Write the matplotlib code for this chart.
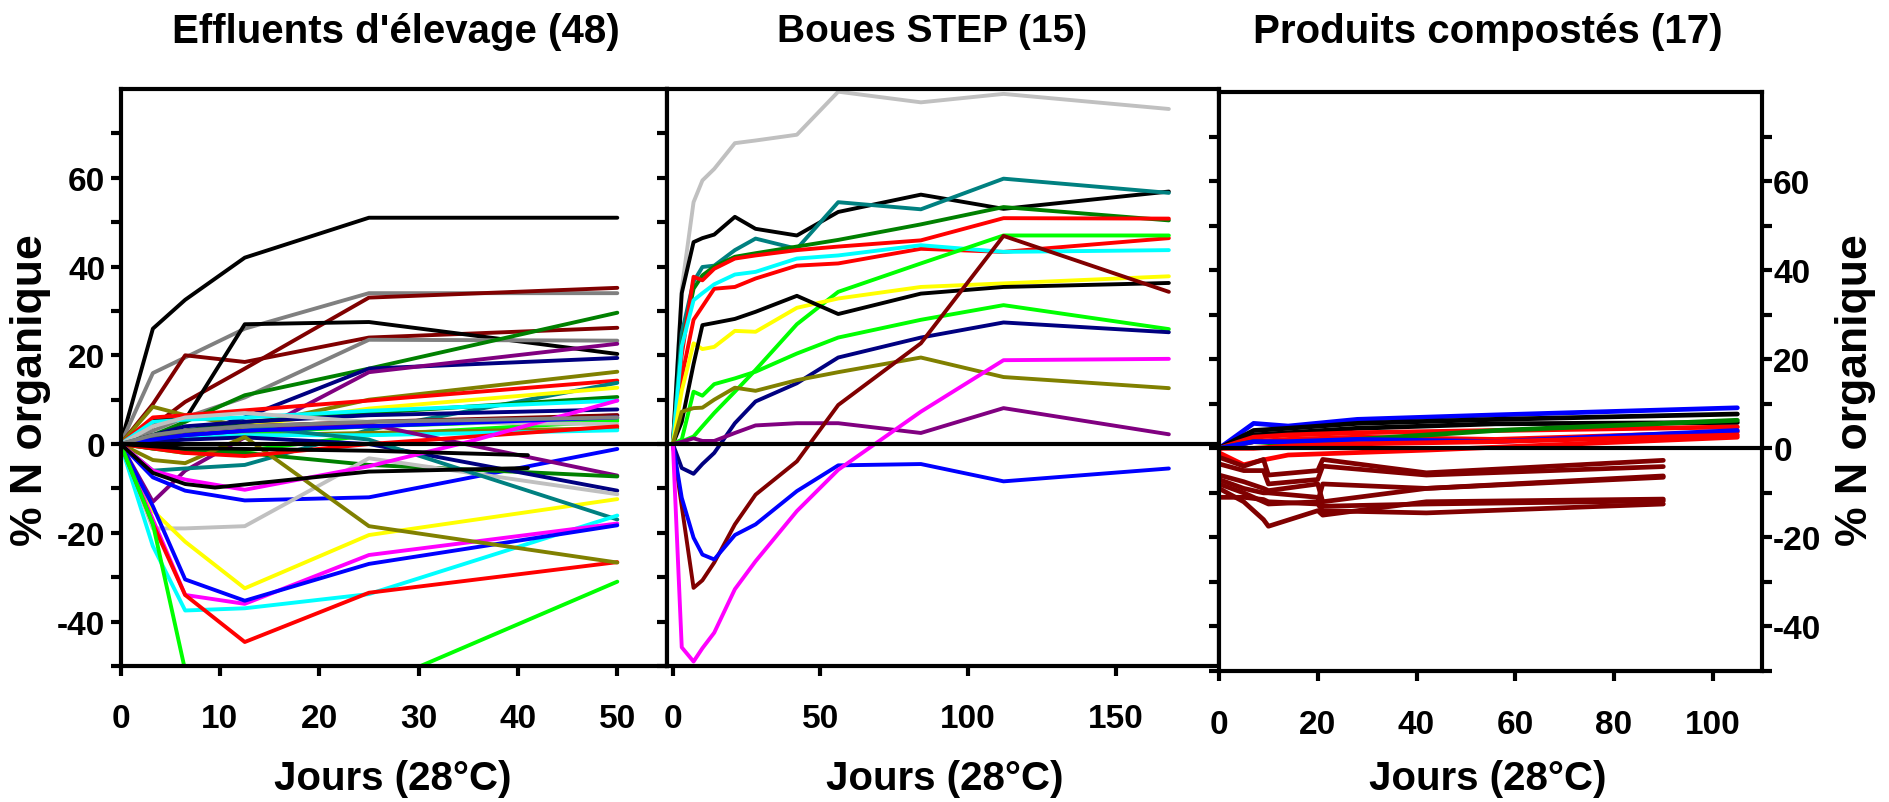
import matplotlib
matplotlib.use('Agg')
import matplotlib.pyplot as plt
from matplotlib.ticker import FixedLocator, FuncFormatter

plt.rcParams['font.family'] = ['Liberation Sans', 'DejaVu Sans']
plt.rcParams['font.weight'] = 'bold'

couleur = {'noir': '#000000', 'gris': '#808080', 'bordeaux': '#800000', 'rouge': '#FF0000',
           'vert': '#008000', 'marine': '#000080', 'violet': '#800080', 'olive': '#808000',
           'sarcelle': '#008080', 'jaune': '#FFFF00', 'cyan': '#00FFFF', 'citron': '#00FF00',
           'grisclair': '#C0C0C0', 'bleu': '#0000FF', 'magenta': '#FF00FF'}

# --- Effluents d'élevage ---
eff_jours = [0, 3.25, 6.5, 12.5, 25, 50]
eff_jours_41 = [0, 3.25, 6.5, 9.5, 25, 41]
eff_jours_35 = [0, 3.25, 6.5, 12.5, 25, 35, 50]

eff_couleurs = ['noir', 'gris', 'bordeaux', 'bordeaux', 'noir', 'gris', 'vert', 'marine',
                'violet', 'olive', 'rouge', 'sarcelle', 'jaune', 'vert', 'cyan', 'marine',
                'violet', 'bordeaux', 'citron', 'citron', 'grisclair', 'olive', 'cyan', 'bleu',
                'violet', 'vert', 'marine', 'grisclair', 'jaune', 'sarcelle', 'cyan', 'magenta',
                'bleu', 'rouge', 'olive', 'citron', 'rouge', 'magenta', 'bleu', 'gris']
eff_valeurs = [
    [0, 26, 32.5, 42, 51, 51],
    [0, 16, 19.5, 26, 34, 34],
    [0, 9, 20, 18.5, 24, 26.2],
    [0, 4, 9.5, 17, 33, 35.2],
    [0, 5.5, 5.5, 27, 27.5, 20.3],
    [0, 3, 6, 10.5, 23.5, 23.3],
    [0, 2, 5, 11, 17, 29.6],
    [0, 1, 2, 6, 17, 19.4],
    [0, -13, -6, 1.5, 16.2, 22.6],
    [0, 8.4, 6.5, 4, 10, 16.3],
    [0, 6, 6.5, 7.6, 9.8, 14.3],
    [0, -6, -5.5, -4.7, 3.2, 13.8],
    [0, 2, 3, 4, 8, 12.7],
    [0, 1.5, 3, 5, 7, 10.6],
    [0, 5, 5.5, 6, 7.5, 9.8],
    [0, 2, 4, 5, 6.5, 7.8],
    [0, 1, 2, 3, 4, 6.5],
    [0, 2, 3, 4, 5, 6.5],
    [0, 0.5, 1.5, 2.5, 4, 5.7],
    [0, -1, -2, -1.5, 2, 5.2],
    [0, 4, 6, 7, 5, 4.5],
    [0, 1, 1.5, 2, 2.5, 3.6],
    [0, 1, 1.5, 2, 2, 3.1],
    [0, -7.5, -10.5, -12.7, -12, -1.1],
    [0, 1, 2, 3, 4.5, -7.1],
    [0, -1, -1.5, -2, -4.7, -7.3],
    [0, 0.5, 1, 1.5, 0, -10.5],
    [0, -19, -19, -18.5, -3.2, -11.3],
    [0, -15, -22, -32.5, -20.5, -12.4],
    [0, 2, 3, 4, 1, -17],
    [0, -23, -37.5, -37, -33.8, -16.1],
    [0, -17, -34, -36, -25, -17.9],
    [0, -14, -30.5, -35.3, -27, -18.3],
    [0, -18, -34, -44.6, -33.5, -26.6],
    [0, -3.6, -4.3, 1.6, -18.5, -26.7],
    [0, -18, -51, -75, -55, -31],
    [0, -1, -2, -2.7, 0, 4],
    [0, -6, -8, -10.3, -5, 0.5, 9.8],
    [0, 1, 2, 3, 4, 6],
    [0, 2, 3, 4, 5, 6],
]
eff_couleurs_41 = ['noir', 'noir']
eff_valeurs_41 = [
    [0, -6.5, -9, -9.8, -6.2, -5.4],
    [0, -0.5, -1, -1, -1.5, -2.5],
]

# --- Boues STEP ---
step_jours = [0, 3, 7, 10, 14, 21, 28, 42, 56, 84, 112, 168]
step_couleurs = ['grisclair', 'noir', 'sarcelle', 'vert', 'rouge', 'rouge', 'cyan', 'citron',
                 'jaune', 'noir', 'citron', 'marine', 'olive', 'violet', 'bordeaux', 'bleu',
                 'magenta']
step_valeurs = [
    [0, 35, 54.5, 59.4, 62, 67.8, 68.4, 69.7, 79.4, 77, 78.9, 75.5],
    [0, 34, 45.5, 46.4, 47.2, 51.2, 48.5, 47, 52.3, 56.2, 53, 56.9],
    [0, 25, 36.6, 39.9, 40.2, 43.7, 46.3, 44, 54.5, 52.9, 59.8, 56.6],
    [0, 22, 35, 38, 40, 42.2, 43, 44.5, 46, 49.5, 53.4, 50.4],
    [0, 20, 37.7, 36.9, 39.5, 41.8, 42.5, 43.7, 44.5, 45.9, 50.9, 50.8],
    [0, 15, 28, 31, 35, 35.4, 37.3, 40.2, 40.7, 44, 43.3, 46.4],
    [0, 22, 32.4, 34, 36, 38.2, 38.8, 41.8, 42.5, 44.8, 43.3, 43.7],
    [0, 0.6, 1.7, 4, 7, 11.8, 16.7, 27, 34.3, 40.7, 47, 47],
    [0, 12, 22.7, 21.4, 21.9, 25.5, 25.3, 30.7, 32.8, 35.4, 36.2, 37.8],
    [0, 5, 18, 26.8, 27.3, 28.2, 29.8, 33.4, 29.3, 33.9, 35.4, 36.3],
    [0, 1, 11.8, 10.9, 13.5, 14.8, 16.3, 20.4, 24, 28, 31.3, 25.9],
    [0, -5.4, -6.7, -4.5, -2, 4.7, 9.6, 13.7, 19.5, 24, 27.4, 25.2],
    [0, 7.3, 8.1, 8.2, 10, 12.7, 12, 14.4, 16.2, 19.5, 15.1, 12.6],
    [0, 0.5, 1.3, 0.7, 0.7, 2.5, 4.2, 4.7, 4.7, 2.5, 8.1, 2.2],
    [0, -14, -32.4, -30.7, -26.7, -18.1, -11.4, -3.9, 8.8, 22.7, 46.9, 34.3],
    [0, -12.1, -21.1, -24.9, -26, -20.5, -18.1, -10.6, -4.8, -4.5, -8.4, -5.5],
    [0, -45.8, -49, -46, -42.5, -32.7, -26.4, -15.1, -5.8, 7.3, 18.9, 19.2],
]

# --- Produits compostés ---
comp_jours = [0, 7, 14, 28, 56, 105]
comp_couleurs = ['bleu', 'noir', 'noir', 'rouge', 'rouge', 'vert', 'bleu', 'rouge']
comp_valeurs = [
    [0, 5.6, 5, 6.5, 7.5, 9.1],
    [0, 4, 4.5, 5.6, 6.5, 7.7],
    [0, 3, 3.5, 4.5, 5.5, 5.8],
    [0, 2.5, 3, 3.5, 4, 4.8],
    [0, 1.5, 2, 2.5, 2, 3.7],
    [0, 1.5, 1, 2, 4, 6.3],
    [0, 1.5, 1.5, 2, 1.5, 4],
    [0, 0, 0.5, 1, 1.5, 3],
]
comp_jours_neg = [0, 5, 9, 14, 42, 105]
comp_rouge_neg = [-1, -3.7, -2.6, -1.5, -0.4, 2.5]
comp_jours_bdx = [0, 5, 9, 10, 20, 21, 42, 90]
comp_valeurs_bdx = [
    [-2, -4, -2.5, -6, -5, -2.5, -5.5, -2.7],
    [-3.5, -5, -5, -8, -7, -4, -6, -4.1],
    [-6, -7.5, -9, -9.5, -8, -12, -9, -6.2],
    [-8, -10, -12, -12.5, -12, -8, -9, -6.5],
    [-9, -12, -16, -17.5, -14, -15, -12, -11.4],
    [-11, -11, -11.5, -12, -12.5, -14, -14.5, -12.5],
    [-7, -9, -10, -10, -11, -13, -12.5, -11.8],
]

fig = plt.figure(figsize=(18.9, 8.03), dpi=100)
ax1 = fig.add_axes([0.0638, 0.1694, 0.2891, 0.7185])
ax2 = fig.add_axes([0.3529, 0.1694, 0.2921, 0.7185])
ax3 = fig.add_axes([0.645, 0.1631, 0.2873, 0.7211])


def trace(ax, x, y, c, lw=2.8):
    ax.plot(x, y, color=couleur[c], lw=lw, solid_capstyle='round', solid_joinstyle='round', zorder=2)


for c, v in zip(eff_couleurs, eff_valeurs):
    trace(ax1, eff_jours_35 if len(v) == 7 else eff_jours, v, c)
for c, v in zip(eff_couleurs_41, eff_valeurs_41):
    trace(ax1, eff_jours_41, v, c)

for c, v in zip(step_couleurs, step_valeurs):
    trace(ax2, step_jours, v, c)

for c, v in zip(comp_couleurs, comp_valeurs):
    trace(ax3, comp_jours, v, c, lw=3.4)
trace(ax3, comp_jours_neg, comp_rouge_neg, 'rouge', lw=3.4)
for v in comp_valeurs_bdx:
    trace(ax3, comp_jours_bdx, v, 'bordeaux', lw=3.4)


def etiquette(v, p):
    if v % 20 == 0 and -40 <= v <= 60:
        return '%d' % v
    return ''


def habiller(ax, xticks, xlim):
    for s in ax.spines.values():
        s.set_linewidth(3)
    ax.set_xlim(xlim)
    ax.set_ylim(-50, 80)
    ax.set_xticks(xticks)
    ax.yaxis.set_major_locator(FixedLocator(range(-50, 80, 10)))
    ax.yaxis.set_major_formatter(FuncFormatter(etiquette))
    ax.tick_params(direction='out', length=7, width=3, labelsize=24)
    ax.tick_params(axis='x', pad=20)
    ax.tick_params(axis='y', pad=4)
    ax.axhline(0, color='black', lw=3, zorder=3)


habiller(ax1, range(0, 51, 10), (0, 55))
habiller(ax2, [0, 50, 100, 150], (-2, 185))
habiller(ax3, range(0, 101, 20), (0, 110))
ax2.tick_params(axis='y', labelleft=False)
ax3.tick_params(axis='y', left=True, right=True, labelleft=False, labelright=True, pad=1)

fig.text(0.2095, 0.96, "Effluents d'élevage (48)", ha='center', va='center', fontsize=29)
fig.text(0.493, 0.96, "Boues STEP (15)", ha='center', va='center', fontsize=28)
fig.text(0.787, 0.96, "Produits compostés (17)", ha='center', va='center', fontsize=29)
for xc in [0.208, 0.4997, 0.787]:
    fig.text(xc, 0.03, "Jours (28°C)", ha='center', va='center', fontsize=29)
fig.text(0.016, 0.514, "% N organique", rotation=90, ha='center', va='center', fontsize=32)
fig.text(0.982, 0.514, "% N organique", rotation=90, ha='center', va='center', fontsize=32)

fig.savefig('out.png', dpi=100)
